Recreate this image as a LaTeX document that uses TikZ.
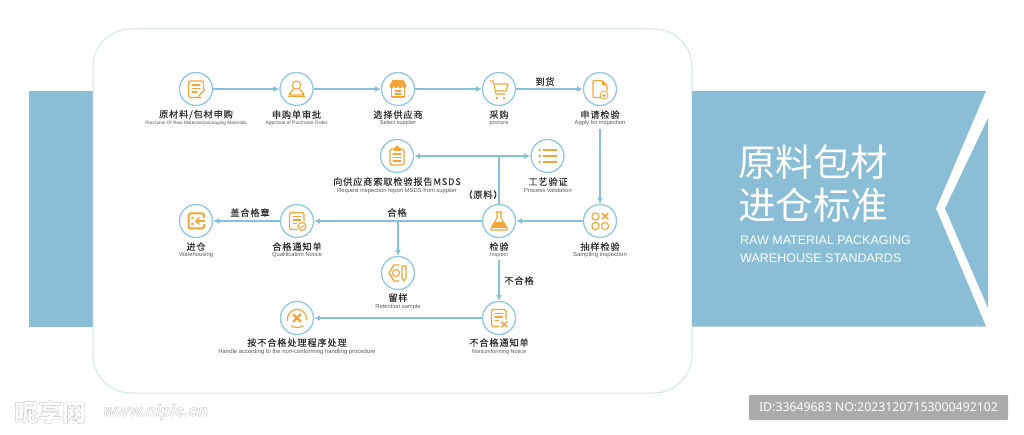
\documentclass[tikz,border=0pt]{standalone}
\usepackage{fontspec}
\usetikzlibrary{arrows.meta}
\setmainfont{Liberation Sans}
\newfontfamily\cn[LetterSpace=9,FakeBold=0.25]{Noto Sans CJK SC}
\newfontfamily\cnt{Noto Sans CJK SC}
\newfontfamily\idf{Noto Sans}
\definecolor{band}{HTML}{8ABDD6}
\definecolor{cardline}{HTML}{CFE6EE}
\definecolor{ring}{HTML}{8FC8E0}
\definecolor{flow}{HTML}{85C0DC}
\definecolor{ico}{HTML}{F4A537}
\definecolor{ink}{HTML}{333333}
\definecolor{sub}{HTML}{5A5A5A}
\tikzset{
 hub/.style={circle,draw=ring,line width=1.3pt,fill=white,minimum size=33pt,inner sep=0pt},
 cnlab/.style={inner sep=0pt,text=ink,yshift=0.4pt,font=\cn\fontsize{9.2}{10}\selectfont},
 enlab/.style={inner sep=0pt,text=sub,yshift=-0.8pt,font=\fontsize{#1}{6}\selectfont},
 enlab/.default=5,
 flowline/.style={draw=flow,line width=1.3pt},
 flowarrow/.style={flowline,-{Latex[length=6pt,width=6pt]}},
 bothways/.style={flowline,{Latex[length=6pt,width=6pt]}-{Latex[length=6pt,width=6pt]}},
 icon/.style={draw=ico,line width=1.1pt,line cap=round,line join=round},
 solid ico/.style={fill=ico,draw=none},
}
\begin{document}
\begin{tikzpicture}[x=1pt,y=-1pt]
\useasboundingbox (0,0) rectangle (1024,435);
\fill[white] (0,0) rectangle (1024,435);
% bands and card
\fill[band] (29,91) rectangle (120,326.5);
\draw[cardline,line width=1pt,fill=white,rounded corners=38pt] (93,29) rectangle (692,393);
\fill[band] (692,91) -- (986,91) -- (936,208.5) -- (986,326.5) -- (692,326.5) -- cycle;
\fill[band] (988,118) -- (945,208.5) -- (988,308) -- cycle;
% step circles
\node[hub] (n1) at (196,89) {};
\node[hub] (n2) at (296.5,89) {};
\node[hub] (n3) at (398,89) {};
\node[hub] (n4) at (499,89) {};
\node[hub] (n5) at (600,89) {};
\node[hub] (m1) at (397,156) {};
\node[hub] (m2) at (547.5,156) {};
\node[hub] (r1) at (196,221) {};
\node[hub] (r2) at (297,221) {};
\node[hub] (r3) at (499,221) {};
\node[hub] (r4) at (600,221) {};
\node[hub] (s1) at (398,273) {};
\node[hub] (t1) at (297,318) {};
\node[hub] (t2) at (499,318) {};
% free ends and junctions
\coordinate (a5) at (600,129);
\coordinate (j1) at (499,156);
\coordinate (j2) at (398,221);
\coordinate (a6) at (499,260);
% connectors
\draw[flowarrow] (n1) -- (n2);
\draw[flowarrow] (n2) -- (n3);
\draw[flowarrow] (n3) -- (n4);
\draw[flowarrow] (n4) -- (n5);
\draw[flowarrow] (a5) -- (r4);
\draw[flowarrow] (r4) -- (r3);
\draw[flowarrow] (r3) -- (r2);
\draw[flowarrow] (r2) -- (r1);
\draw[flowline] (r3) -- (j1);
\draw[bothways] (m1) -- (m2);
\draw[flowarrow] (j2) -- (s1);
\draw[flowarrow] (a6) -- (t2);
\draw[flowarrow] (t2) -- (t1);
% step labels
\node[cnlab] (n1c) at (196,115) {原材料/包材申购};
\node[enlab=4.75] (n1e) at (196,122) {Purchase Of Raw Materials/packaging Materials};
\node[cnlab] (n2c) at (296.5,115) {申购单审批};
\node[enlab=5] (n2e) at (296.5,122) {Approval of Purchase Order};
\node[cnlab] (n3c) at (398,115) {选择供应商};
\node[enlab=5.5] (n3e) at (398,122.5) {Select supplier};
\node[cnlab] (n4c) at (499,115) {采购};
\node[enlab=5.5] (n4e) at (499,122.5) {procure};
\node[cnlab] (n5c) at (600,115) {申请检验};
\node[enlab=5.8] (n5e) at (600,122.5) {Apply for inspection};
\node[cnlab] (m1c) at (397,182) {向供应商索取检验报告MSDS};
\node[enlab=5.8] (m1e) at (397,190) {Request inspection report MSDS from supplier};
\node[cnlab] (m2c) at (548,182) {工艺验证};
\node[enlab=5.8] (m2e) at (548,190) {Process Validation};
\node[cnlab] (r1c) at (196,247) {进仓};
\node[enlab=5.8] (r1e) at (196,254.5) {Warehousing};
\node[cnlab] (r2c) at (297,247) {合格通知单};
\node[enlab=5.8] (r2e) at (297,254.5) {Qualification Notice};
\node[cnlab] (r3c) at (499,247) {检验};
\node[enlab=5.5] (r3e) at (499,254.5) {Inspect};
\node[cnlab] (r4c) at (600,247) {抽样检验};
\node[enlab=6] (r4e) at (600,254.5) {Sampling inspection};
\node[cnlab] (s1c) at (398,298) {留样};
\node[enlab=5.8] (s1e) at (398,306) {Retention sample};
\node[cnlab] (t1c) at (297,343) {按不合格处理程序处理};
\node[enlab=5.9] (t1e) at (297,351) {Handle according to the non-conforming handling procedure};
\node[cnlab] (t2c) at (499,343) {不合格通知单};
\node[enlab=5.5] (t2e) at (499,351) {Nonconforming Notice};
% connector labels
\node[cnlab] (l1) at (545,82) {到货};
\node[cnlab] (l2) at (397,213) {合格};
\node[cnlab] (l3) at (250,213) {盖合格章};
\node[cnlab] (l4) at (483,195) {（原料）};
\node[cnlab] (l5) at (519,281) {不合格};
% title
\node[inner sep=0pt,text=white,font=\cnt\fontsize{37.5}{38}\selectfont] (ti1) at (813,162) {原料包材};
\node[inner sep=0pt,text=white,font=\cnt\fontsize{37.5}{38}\selectfont] (ti2) at (813,205) {进仓标准};
\node[inner sep=0pt,anchor=west,text=white,font=\fontsize{12.5}{13}\selectfont] (ti3) at (740,240) {RAW MATERIAL PACKAGING};
\node[inner sep=0pt,anchor=west,text=white,font=\fontsize{12.5}{13}\selectfont] (ti4) at (740,258) {WAREHOUSE STANDARDS};
% watermark and id
\node[inner sep=0pt,anchor=west,text=black!22,font=\cnt\bfseries\fontsize{24}{25}\selectfont] (w1) at (14,412) {\special{pdf:code 1 Tr 0.4 w}昵享网\special{pdf:code 0 Tr}};
\node[inner sep=0pt,anchor=west,text=black!22,font=\bfseries\itshape\fontsize{16.5}{17}\selectfont] (w2) at (103,412) {\special{pdf:code 1 Tr 0.4 w}www.nipic.cn\special{pdf:code 0 Tr}};
\node[fill=black!33,rounded corners=1pt,minimum width=259pt,minimum height=25pt,inner sep=0pt,text=white,font=\idf\fontsize{12.3}{13}\selectfont] (idbox) at (878.5,407.5) {ID:33649683 NO:20231207153000492102};
% icons
\begin{scope}[shift={(n1)}]
 \draw[icon,rounded corners=1.5pt] (5,8.5) -- (-7.5,8.5) -- (-7.5,-8) -- (7.5,-8) -- (7.5,1);
 \draw[icon] (-4,-4) -- (4,-4) (-4,-.5) -- (4,-.5) (-4,3) -- (1,3);
 \draw[icon] (8.5,1) -- (3,6.5) -- (2,8);
\end{scope}
\begin{scope}[shift={(n2)}]
 \draw[icon] (0,-4) circle (4.2);
 \draw[icon,rounded corners=2pt] (-3,0) -- (-7,4.5) -- (-7,6) -- (7,6) -- (7,4.5) -- (3,0);
 \draw[icon,line width=1.6pt] (-8,7.5) -- (8,7.5);
\end{scope}
\begin{scope}[shift={(n3)}]
 \fill[solid ico] (-5.5,-9) -- (5.5,-9) -- (8.5,-3) -- (-8.5,-3) -- cycle;
 \fill[solid ico] (-6.4,-3) circle (2.1) (-2.1,-3) circle (2.1) (2.1,-3) circle (2.1) (6.4,-3) circle (2.1);
 \draw[icon,line width=1.5pt] (-6.5,-1) -- (-6.5,8) -- (6.5,8) -- (6.5,-1);
 \draw[icon] (-3,2) -- (3,2) (-3,5) -- (3,5);
\end{scope}
\begin{scope}[shift={(n4)}]
 \draw[icon] (-9,-8) -- (-6,-8) -- (-3,5) -- (6,5);
 \draw[icon] (-5,-5) -- (9,-5) -- (7,2) -- (-3,2);
 \fill[solid ico] (-2,9) circle (1.4) (5,9) circle (1.4);
\end{scope}
\begin{scope}[shift={(n5)}]
 \draw[icon,rounded corners=1pt] (1,8.5) -- (-7,8.5) -- (-7,-8.5) -- (2,-8.5) -- (7,-3.5) -- (7,2);
 \fill[solid ico] (2,-8.5) -- (7,-3.5) -- (2,-3.5) -- cycle;
 \draw[icon,line width=.8pt] (4,6) circle (4);
 \fill[solid ico] (4,6.5) ellipse (2 and 1.2);
\end{scope}
\begin{scope}[shift={(m1)}]
 \draw[icon,rounded corners=1.5pt] (-3,-7) -- (-7,-7) -- (-7,9) -- (7,9) -- (7,-7) -- (3,-7);
 \fill[solid ico] (-3.5,-8) rectangle (3.5,-5) (-1.5,-10) rectangle (1.5,-7);
 \draw[icon] (-4,-2) -- (4,-2) (-4,1.5) -- (4,1.5) (-4,5) -- (4,5);
\end{scope}
\begin{scope}[shift={(m2)}]
 \draw[icon,line width=1.5pt,line cap=butt] (-5,-6) -- (9,-6) (-5,0) -- (9,0) (-5,6) -- (9,6);
 \fill[solid ico] (-9,-7) rectangle (-7,-5) (-9,-1) rectangle (-7,1) (-9,5) rectangle (-7,7);
\end{scope}
\begin{scope}[shift={(r1)}]
 \draw[icon,line width=2pt,rounded corners=2pt] (8,-3.5) -- (8,-7.5) -- (-7.5,-7.5) -- (-7.5,7.5) -- (8,7.5) -- (8,3.5);
 \draw[icon,line width=1.6pt] (8.5,0) -- (0,0) (3,-3) -- (0,0) -- (3,3);
 \draw[icon,line width=.7pt] (-3.5,-3) circle (1.2) (-3.5,3) circle (1.2);
\end{scope}
\begin{scope}[shift={(r2)}]
 \draw[icon,rounded corners=1.5pt] (0,8.5) -- (-7.5,8.5) -- (-7.5,-8.5) -- (7,-8.5) -- (7,0);
 \draw[icon] (-4,-4.5) -- (3.5,-4.5) (-4,-1) -- (3.5,-1) (-4,2.5) -- (-.5,2.5);
 \draw[icon] (5,5.5) circle (4);
 \draw[icon,line width=.8pt] (3,5.5) -- (4.6,7) -- (7,4.2);
\end{scope}
\begin{scope}[shift={(r3)}]
 \draw[icon] (-3,-9) -- (3,-9) (-2,-9) -- (-2,-3) -- (-8,7) -- (-8,9) -- (8,9) -- (8,7) -- (2,-3) -- (2,-9);
 \fill[solid ico] (-4.2,1) -- (4.2,1) -- (8,7) -- (-8,7) -- cycle;
\end{scope}
\begin{scope}[shift={(r4)}]
 \draw[icon] (-4.5,-4.5) circle (3.6) (-4.5,5) circle (3.6) (5,5) circle (3.6);
 \draw[icon,line width=1.5pt] (2.2,-7.5) -- (8,-2) (8,-7.5) -- (2.2,-2);
\end{scope}
\begin{scope}[shift={(s1)}]
 \draw[icon,line width=1.4pt] (1,-8) -- (-4,-8) -- (-9,0) -- (-4,8) -- (1,8);
 \draw[icon] (-2,0) circle (3.5);
 \draw[icon] (4,-7) -- (8,-7) -- (8,5) -- (6,8) -- (4,5) -- cycle;
\end{scope}
\begin{scope}[shift={(t1)}]
 \draw[icon,line width=1.2pt] plot[domain=170:365,samples=25,smooth] ({9.5*cos(\x)},{9.5*sin(\x)+1});
 \draw[icon,line width=1.2pt] plot[domain=50:125,samples=12,smooth] ({9.5*cos(\x)},{9.5*sin(\x)});
 \draw[icon,line width=2.4pt] (-3.5,-3.5) -- (3.5,3.5) (3.5,-3.5) -- (-3.5,3.5);
\end{scope}
\begin{scope}[shift={(t2)}]
 \draw[icon,rounded corners=1.5pt] (0,8.5) -- (-7.5,8.5) -- (-7.5,-8.5) -- (7,-8.5) -- (7,1);
 \draw[icon] (-4,-4.5) -- (3.5,-4.5) (-4,-1) -- (3.5,-1) (-4,2.5) -- (-.5,2.5);
 \draw[icon,line width=1.5pt] (2.5,4) -- (8,9) (8,4) -- (2.5,9);
\end{scope}
\end{tikzpicture}
\end{document}
